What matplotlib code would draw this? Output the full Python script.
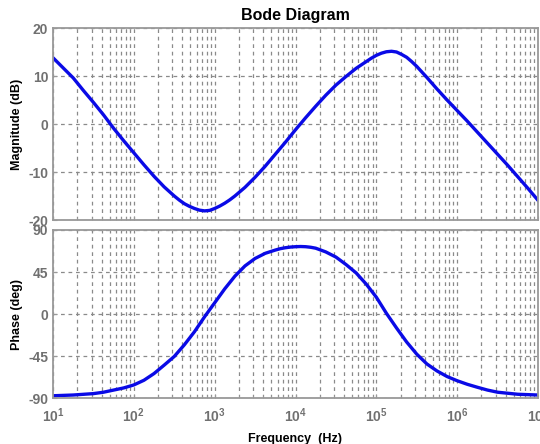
import numpy as np
import matplotlib
matplotlib.use("Agg")
import matplotlib.pyplot as plt
from matplotlib.ticker import LogLocator, NullFormatter, FixedLocator

plt.rcParams['font.family'] = ['Liberation Sans', 'DejaVu Sans']
plt.rcParams['mathtext.default'] = 'regular'

# Magnitude data (log10 of frequency in Hz, magnitude in dB)
mag_log_f = [1.0, 1.125, 1.25, 1.375, 1.5, 1.625, 1.75, 1.875, 2.0, 2.125, 2.25, 2.375,
             2.5, 2.5625, 2.625, 2.6875, 2.75, 2.8125, 2.875, 2.9375, 3.0, 3.0625, 3.125,
             3.1875, 3.25, 3.375, 3.5, 3.625, 3.75, 3.875,
             4.0, 4.125, 4.25, 4.375, 4.5, 4.625, 4.75, 4.875, 4.9375, 5.0, 5.0625, 5.125,
             5.1875, 5.25, 5.3125, 5.375, 5.4375,
             5.5, 5.625, 5.75, 5.875, 6.0, 6.125, 6.25, 6.375, 6.5, 6.625, 6.75, 6.875, 7.0]
mag_db = [13.8, 11.7, 9.6, 7.0, 4.5, 1.9, -0.9, -3.5, -6.0, -8.5, -10.9, -13.1,
          -15.0, -15.85, -16.6, -17.15, -17.6, -17.95, -18.1, -18.0, -17.6, -17.1, -16.5,
          -15.8, -15.0, -13.2, -11.1, -8.8, -6.3, -3.8,
          -1.2, 1.3, 3.7, 6.0, 8.1, 9.9, 11.6, 13.0, 13.7, 14.3, 14.75, 15.05,
          15.15, 15.0, 14.5, 13.9, 13.0,
          12.0, 9.7, 7.3, 5.0, 2.8, 0.6, -1.7, -4.0, -6.3, -8.6, -11.0, -13.4, -15.9]

# Phase data (log10 of frequency in Hz, phase in degrees)
ph_log_f = [1.0, 1.25, 1.5, 1.625, 1.75, 1.875, 2.0, 2.125, 2.25, 2.375, 2.5, 2.625, 2.75, 2.875,
            3.0, 3.125, 3.25, 3.375, 3.5, 3.625, 3.75, 3.8125, 3.875, 3.9375, 4.0, 4.0625,
            4.125, 4.1875, 4.25, 4.375,
            4.5, 4.625, 4.75, 4.875, 5.0, 5.125, 5.25, 5.375, 5.5, 5.625, 5.75, 5.875, 6.0,
            6.125, 6.25, 6.375, 6.5, 6.75, 7.0]
phase_deg = [-87.6, -86.8, -85.3, -83.8, -81.5, -79.2, -76.0, -71.0, -63.8, -54.8, -45.5, -33.0,
             -19.0, -3.0,
             12.0, 27.0, 40.5, 51.5, 59.5, 65.0, 68.5, 70.0, 71.0, 71.7, 72.1, 72.3,
             72.1, 71.5, 70.5, 66.5,
             61.0, 53.0, 44.0, 32.0, 18.0, 0.7, -15.0, -30.0, -43.0, -53.5, -61.0, -67.0, -71.5,
             -75.3, -78.5, -81.5, -83.8, -86.0, -86.8]

mag_ticks = [-20, -10, 0, 10, 20]
phase_ticks = [-90, -45, 0, 45, 90]
decade_exps = [1, 2, 3, 4, 5, 6, 7]

mag_f = 10.0 ** np.array(mag_log_f)
ph_f = 10.0 ** np.array(ph_log_f)

W, H = 540, 444
fig = plt.figure(figsize=(W / 100, H / 100), dpi=100)
ax1 = fig.add_axes([53 / W, 1 - 220 / H, 485 / W, 192 / H])
ax2 = fig.add_axes([53 / W, 1 - 398 / H, 485 / W, 168 / H])

line_color = '#0a0ae6'
grid_color = '#8a8a8a'
tick_color = '#707070'
frame_color = '#999999'

for ax in (ax1, ax2):
    ax.set_xscale('log')
    ax.set_xlim(10, 1e7)
    ax.xaxis.set_major_locator(FixedLocator([10.0 ** e for e in decade_exps]))
    ax.xaxis.set_minor_locator(LogLocator(base=10, subs=np.arange(2, 10), numticks=20))
    ax.xaxis.set_minor_formatter(NullFormatter())
    ax.grid(True, which='major', axis='both', color=grid_color, linestyle=(0, (3, 3)), linewidth=0.9)
    ax.grid(True, which='minor', axis='x', color=grid_color, linestyle=(0, (3, 3)), linewidth=0.9)
    for s in ax.spines.values():
        s.set_color(frame_color)
        s.set_linewidth(1.3)
    ax.tick_params(which='both', direction='in', color=frame_color, length=3,
                   labelcolor=tick_color, labelsize=10)
    ax.tick_params(which='minor', length=2)
    ax.set_facecolor('white')

ax1.plot(mag_f, mag_db, color=line_color, linewidth=2.4, solid_joinstyle='round')
ax1.set_ylim(-20, 20)
ax1.set_yticks(mag_ticks)
ax1.set_yticklabels([str(t) for t in mag_ticks], fontweight='bold')
ax1.tick_params(axis='x', labelbottom=False)
ax1.set_ylabel('Magnitude (dB)', fontsize=9, fontweight='bold', labelpad=4)
ax1.set_title('Bode Diagram', fontsize=11.5, fontweight='bold', pad=6)

ax2.plot(ph_f, phase_deg, color=line_color, linewidth=2.4, solid_joinstyle='round')
ax2.set_ylim(-90, 90)
ax2.set_yticks(phase_ticks)
ax2.set_yticklabels([str(t) for t in phase_ticks], fontweight='bold')
ax2.set_xticklabels(['10$^{%d}$' % e for e in decade_exps], fontweight='bold')
ax2.tick_params(axis='x', pad=6)
ax2.set_ylabel('Phase (deg)', fontsize=9, fontweight='bold', labelpad=4)
ax2.set_xlabel('Frequency  (Hz)', fontsize=9, fontweight='bold', labelpad=6)

fig.savefig('out.png', dpi=100, facecolor='white')
